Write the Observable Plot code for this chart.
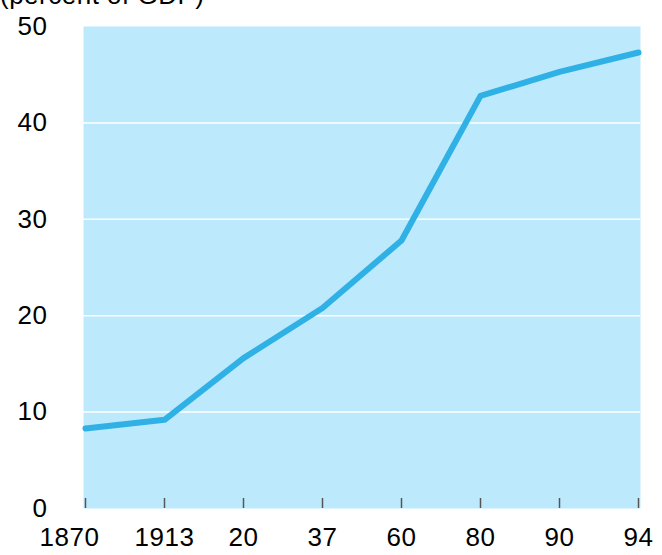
<!DOCTYPE html>
<html>
<head>
<meta charset="utf-8">
<script src="https://cdn.jsdelivr.net/npm/d3@7"></script>
<script src="https://cdn.jsdelivr.net/npm/@observablehq/plot@0.6"></script>
<style>
  body { margin: 0; background: #fff; font-family: "Liberation Sans", Arial, sans-serif; }
  #wrap { position: relative; width: 662px; height: 555px; overflow: hidden; }
  #title { position: absolute; left: 0px; top: -18px; font-size: 26px; line-height: 26px; color: #000; white-space: nowrap; letter-spacing: 0.5px; }
  #chart { position: absolute; left: 0; top: 0; }
  #chart svg text { letter-spacing: 0.6px; }
</style>
</head>
<body>
<div id="wrap">
  <div id="chart"></div>
  <div id="title">(percent of GDP)</div>
</div>
<script>
const years = ["1870", "1913", "20", "37", "60", "80", "90", "94"];
const share = [8.3, 9.2, 15.6, 20.8, 27.8, 42.8, 45.3, 47.3];
const yTicks = [0, 10, 20, 30, 40, 50];
const gridTicks = [10, 20, 30, 40];

const data = years.map((y, i) => ({year: y, value: share[i]}));

const chart = Plot.plot({
  width: 662,
  height: 555,
  marginLeft: 83,
  marginRight: 22,
  marginTop: 26,
  marginBottom: 47,
  style: { fontFamily: "'Liberation Sans', Arial, sans-serif", fontSize: "26px", color: "#000", background: "transparent" },
  x: { type: "point", domain: years, padding: 0, label: null },
  y: { domain: [0, 50], label: null },
  marks: [
    Plot.frame({ fill: "#bde9fd", stroke: null }),
    Plot.ruleY(gridTicks, { stroke: "#ffffff", strokeWidth: 1.5 }),
    Plot.axisY({ ticks: yTicks, tickSize: 0, tickPadding: 36, fontSize: 26, fill: "#000", label: null }),
    Plot.axisX({ ticks: years, tickSize: -10, stroke: "#555", strokeWidth: 1.5, text: null, label: null }),
    Plot.axisX({ ticks: years.slice(0, 1), tickSize: 0, tickPadding: 19, dx: -16, fontSize: 26, fill: "#000", label: null }),
    Plot.axisX({ ticks: years.slice(1), tickSize: 0, tickPadding: 19, fontSize: 26, fill: "#000", label: null }),
    Plot.line(data, { x: "year", y: "value", stroke: "#2fb1e6", strokeWidth: 6, strokeLinejoin: "round", strokeLinecap: "round" })
  ]
});
document.getElementById("chart").appendChild(chart);
</script>
</body>
</html>
